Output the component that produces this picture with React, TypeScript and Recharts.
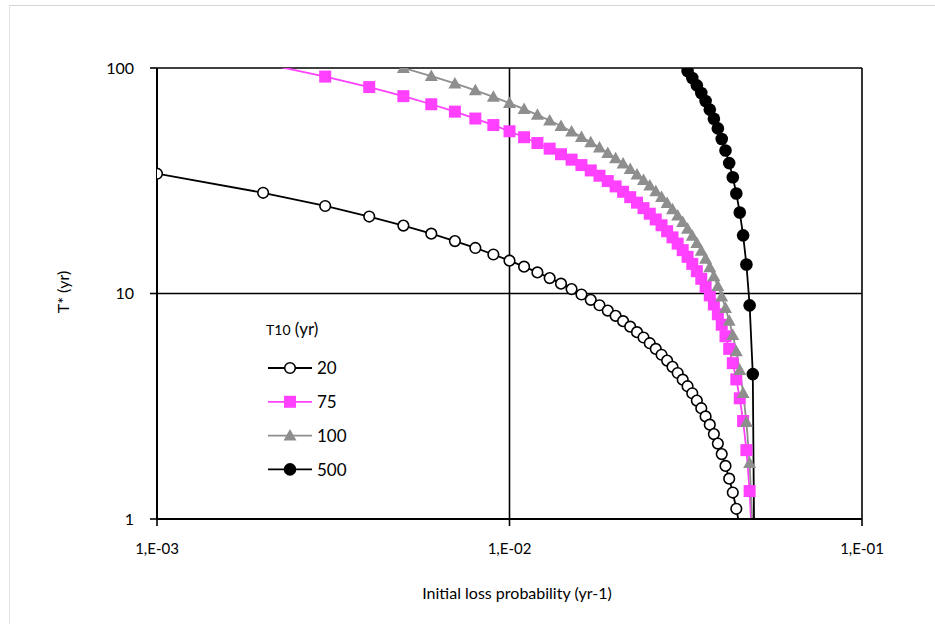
import React from 'react';
import { LineChart, Line, XAxis, YAxis, CartesianGrid, Legend, Label } from 'recharts';

// Initial loss probability (yr-1)
const probabilities = [
  0.001, 0.002, 0.003, 0.004, 0.005, 0.006, 0.007, 0.008, 0.009, 0.010,
  0.011, 0.012, 0.013, 0.014, 0.015, 0.016, 0.017, 0.018, 0.019, 0.020,
  0.021, 0.022, 0.023, 0.024, 0.025, 0.026, 0.027, 0.028, 0.029, 0.030,
  0.031, 0.032, 0.033, 0.034, 0.035, 0.036, 0.037, 0.038, 0.039, 0.040,
  0.041, 0.042, 0.043, 0.044, 0.045, 0.046, 0.047, 0.048, 0.049, 0.050,
];

// T* (yr) for each T10 (yr); the last point (value ~0) is shown as a small value on the log axis
const tStar20 = [
  33.98, 27.96, 24.44, 21.94, 20.0, 18.42, 17.08, 15.92, 14.89, 13.98,
  13.15, 12.4, 11.7, 11.06, 10.46, 9.9, 9.37, 8.87, 8.4, 7.96,
  7.54, 7.13, 6.74, 6.38, 6.02, 5.68, 5.35, 5.04, 4.73, 4.44,
  4.15, 3.88, 3.61, 3.35, 3.1, 2.85, 2.62, 2.38, 2.16, 1.94,
  1.72, 1.51, 1.31, 1.11, 0.92, 0.72, 0.54, 0.35, 0.18, 0.1,
];
const tStar75 = [
  127.4, 104.8, 91.6, 82.3, 75.0, 69.06, 64.04, 59.69, 55.85, 52.42,
  49.32, 46.48, 43.88, 41.46, 39.22, 37.11, 35.14, 33.28, 31.52, 29.85,
  28.26, 26.74, 25.29, 23.91, 22.58, 21.3, 20.07, 18.89, 17.74, 16.64,
  15.57, 14.54, 13.53, 12.56, 11.62, 10.7, 9.81, 8.94, 8.09, 7.27,
  6.46, 5.68, 4.91, 4.16, 3.43, 2.72, 2.02, 1.33, 0.66, 0.1,
];
const tStar100 = [
  169.9, 139.8, 122.2, 109.7, 100.0, 92.08, 85.39, 79.59, 74.47, 69.9,
  65.76, 61.98, 58.5, 55.28, 52.29, 49.49, 46.85, 44.37, 42.02, 39.79,
  37.68, 35.66, 33.72, 31.88, 30.1, 28.4, 26.76, 25.18, 23.66, 22.19,
  20.76, 19.38, 18.05, 16.75, 15.49, 14.27, 13.08, 11.92, 10.79, 9.69,
  8.62, 7.57, 6.55, 5.55, 4.58, 3.62, 2.69, 1.77, 0.88, 0.1,
];
const tStar500 = [
  849.5, 699.0, 610.9, 548.5, 500.0, 460.4, 426.9, 397.9, 372.4, 349.5,
  328.8, 309.9, 292.5, 276.4, 261.4, 247.4, 234.3, 221.9, 210.1, 199.0,
  188.4, 178.3, 168.6, 159.4, 150.5, 142.0, 133.8, 125.9, 118.3, 110.9,
  103.8, 96.91, 90.23, 83.75, 77.45, 71.34, 65.39, 59.6, 53.96, 48.46,
  43.1, 37.86, 32.75, 27.76, 22.88, 18.11, 13.44, 8.86, 4.39, 0.1,
];

const xTicks = [0.001, 0.01, 0.1];
const xTickLabels = ['1,E-03', '1,E-02', '1,E-01'];
const yTicks = [1, 10, 100];
const yTickLabels = ['1', '10', '100'];
const seriesNames = ['20', '75', '100', '500'];
const legendTitle = 'T10';
const legendUnit = ' (yr)';
const xTitle = 'Initial loss probability (yr-1)';
const yTitle = 'T* (yr)';

const data = probabilities.map((p, i) => ({
  x: p,
  s20: tStar20[i],
  s75: tStar75[i],
  s100: tStar100[i],
  s500: tStar500[i],
}));

const PINK = '#FF40FF';
const GRAY = '#8E8E8E';
const FONT = 'Lato, "Open Sans", sans-serif';

type Shape = 'openCircle' | 'square' | 'triangle' | 'dot';

const markerEl = (shape: Shape, cx: number, cy: number, color: string) => {
  switch (shape) {
    case 'openCircle':
      return <circle cx={cx} cy={cy} r={5.3} fill="#fff" stroke="#000" strokeWidth={1.6} />;
    case 'square':
      return <rect x={cx - 6} y={cy - 6} width={12} height={12} fill={color} />;
    case 'triangle':
      return <path d={`M${cx},${cy - 6.5} L${cx + 6.5},${cy + 5} L${cx - 6.5},${cy + 5} Z`} fill={color} />;
    default:
      return <circle cx={cx} cy={cy} r={6.3} fill="#000" />;
  }
};

const makeDot = (shape: Shape, color: string) => (props: any) => {
  const { cx, cy, payload, dataKey, index } = props;
  const v = payload ? payload[dataKey] : undefined;
  if (cx == null || cy == null || v == null || v < 0.99 || v > 100.5) {
    return <g key={`d-${dataKey}-${index}`} />;
  }
  return <g key={`d-${dataKey}-${index}`}>{markerEl(shape, cx, cy, color)}</g>;
};

const series: { key: string; color: string; shape: Shape }[] = [
  { key: 's20', color: '#000', shape: 'openCircle' },
  { key: 's75', color: PINK, shape: 'square' },
  { key: 's100', color: GRAY, shape: 'triangle' },
  { key: 's500', color: '#000', shape: 'dot' },
];

const LegendBox = () => (
  <svg width={130} height={175} style={{ overflow: 'visible' }}>
    <text x={4} y={19} fontFamily={FONT} fill="#000">
      <tspan fontSize={14}>{legendTitle}</tspan>
      <tspan fontSize={17}>{legendUnit}</tspan>
    </text>
    {series.map((s, i) => {
      const y = 52 + i * 33.8;
      return (
        <g key={s.key}>
          <line x1={6} x2={50} y1={y} y2={y} stroke={s.color} strokeWidth={1.8} />
          {markerEl(s.shape, 28, y, s.color)}
          <text x={55} y={y} dy="0.36em" fontSize={17} fontFamily={FONT} fill="#000">
            {seriesNames[i]}
          </text>
        </g>
      );
    })}
  </svg>
);

export default function App() {
  return (
    <div style={{ position: 'absolute', left: 0, top: 0, width: 935, height: 624, background: '#fff' }}>
      <div
        style={{
          position: 'absolute',
          left: 9,
          top: 5,
          width: 926,
          height: 619,
          borderTop: '1px solid #d6d6d6',
          borderLeft: '1px solid #e2e2e2',
          boxSizing: 'border-box',
        }}
      />
      <LineChart
        width={935}
        height={624}
        data={data}
        margin={{ top: 68, right: 73, bottom: 0, left: 0 }}
        style={{ position: 'absolute', left: 0, top: 0 }}
      >
        <CartesianGrid stroke="#000" strokeWidth={1.6} />
        <XAxis
          dataKey="x"
          type="number"
          scale="log"
          domain={[0.001, 0.1]}
          ticks={xTicks}
          allowDataOverflow
          height={105}
          tickSize={7}
          tickMargin={17}
          axisLine={{ stroke: '#000', strokeWidth: 2 }}
          tickLine={{ stroke: '#000', strokeWidth: 1.6 }}
          tick={{ fill: '#000', fontSize: 15, fontFamily: FONT }}
          tickFormatter={(v: number) => xTickLabels[xTicks.indexOf(v)] ?? ''}
        >
          <Label
            content={() => (
              <text x={517} y={593} dy="0.36em" textAnchor="middle" fontSize={16} fontFamily={FONT} fill="#000">
                {xTitle}
              </text>
            )}
          />
        </XAxis>
        <YAxis
          type="number"
          scale="log"
          domain={[1, 100]}
          ticks={yTicks}
          allowDataOverflow
          width={157}
          tickSize={7}
          tickMargin={16}
          axisLine={{ stroke: '#000', strokeWidth: 2 }}
          tickLine={{ stroke: '#000', strokeWidth: 1.6 }}
          tick={{ fill: '#000', fontSize: 16, fontFamily: FONT }}
          tickFormatter={(v: number) => yTickLabels[yTicks.indexOf(v)] ?? ''}
        >
          <Label
            content={() => (
              <text
                x={63}
                y={292}
                dy="0.36em"
                textAnchor="middle"
                fontSize={16}
                fontFamily={FONT}
                fill="#000"
                transform="rotate(-90, 63, 292)"
              >
                {yTitle}
              </text>
            )}
          />
        </YAxis>
        <Legend
          layout="vertical"
          align="center"
          verticalAlign="middle"
          content={() => <LegendBox />}
          wrapperStyle={{ position: 'absolute', left: 262, top: 316, width: 130, height: 175 }}
        />
        {series.map((s) => (
          <Line
            key={s.key}
            dataKey={s.key}
            type="linear"
            stroke={s.color}
            strokeWidth={1.8}
            dot={makeDot(s.shape, s.color)}
            activeDot={false}
            isAnimationActive={false}
            legendType="none"
          />
        ))}
      </LineChart>
    </div>
  );
}
